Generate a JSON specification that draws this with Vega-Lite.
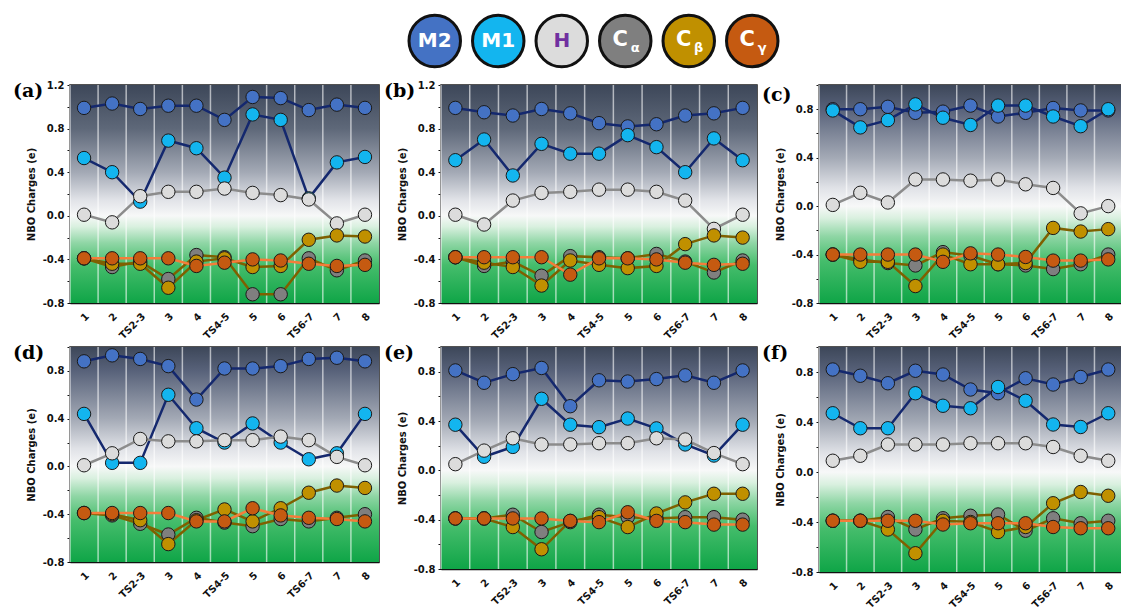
{
  "$schema": "https://vega.github.io/schema/vega-lite/v6.json",
  "background": "white",
  "padding": {"left": 12, "top": 9, "right": 0, "bottom": 0},
  "spacing": 6,
  "config": {
    "view": {"stroke": "#1a1a1a", "strokeWidth": 1.5},
    "axis": {"labelFont": "DejaVu Sans", "labelFontWeight": "bold", "labelFontSize": 10, "labelColor": "#111", "titleFont": "DejaVu Sans", "titleFontWeight": "bold", "titleFontSize": 10, "titleColor": "#111", "domainColor": "#111", "tickColor": "#111", "grid": false},
    "title": {"font": "DejaVu Serif", "fontSize": 19, "fontWeight": "bold", "color": "#000", "anchor": "start", "frame": "group", "dx": -57, "dy": 25, "offset": 0, "baseline": "alphabetic"}
  },
  "datasets": {
    "cats": [{"s": "1"}, {"s": "2"}, {"s": "TS2-3"}, {"s": "3"}, {"s": "4"}, {"s": "TS4-5"}, {"s": "5"}, {"s": "6"}, {"s": "TS6-7"}, {"s": "7"}, {"s": "8"}],
    "legend": [
      {"atom": "M2", "main": "M2", "sub": ""},
      {"atom": "M1", "main": "M1", "sub": ""},
      {"atom": "H", "main": "H", "sub": ""},
      {"atom": "Ca", "main": "C", "sub": "α"},
      {"atom": "Cb", "main": "C", "sub": "β"},
      {"atom": "Cg", "main": "C", "sub": "γ"}
    ],
    "charges": [
      {"p": "a", "s": "1", "M2": 0.99, "M1": 0.53, "H": 0.01, "Ca": -0.39, "Cb": -0.39, "Cg": -0.39},
      {"p": "a", "s": "2", "M2": 1.03, "M1": 0.40, "H": -0.06, "Ca": -0.47, "Cb": -0.44, "Cg": -0.39},
      {"p": "a", "s": "TS2-3", "M2": 0.98, "M1": 0.13, "H": 0.18, "Ca": -0.42, "Cb": -0.44, "Cg": -0.39},
      {"p": "a", "s": "3", "M2": 1.01, "M1": 0.69, "H": 0.22, "Ca": -0.58, "Cb": -0.66, "Cg": -0.39},
      {"p": "a", "s": "4", "M2": 1.01, "M1": 0.62, "H": 0.22, "Ca": -0.36, "Cb": -0.42, "Cg": -0.46},
      {"p": "a", "s": "TS4-5", "M2": 0.88, "M1": 0.35, "H": 0.25, "Ca": -0.38, "Cb": -0.39, "Cg": -0.43},
      {"p": "a", "s": "5", "M2": 1.09, "M1": 0.93, "H": 0.21, "Ca": -0.72, "Cb": -0.47, "Cg": -0.40},
      {"p": "a", "s": "6", "M2": 1.08, "M1": 0.88, "H": 0.19, "Ca": -0.72, "Cb": -0.46, "Cg": -0.41},
      {"p": "a", "s": "TS6-7", "M2": 0.97, "M1": 0.16, "H": 0.15, "Ca": -0.39, "Cb": -0.22, "Cg": -0.44},
      {"p": "a", "s": "7", "M2": 1.02, "M1": 0.49, "H": -0.07, "Ca": -0.50, "Cb": -0.18, "Cg": -0.46},
      {"p": "a", "s": "8", "M2": 0.99, "M1": 0.54, "H": 0.01, "Ca": -0.41, "Cb": -0.19, "Cg": -0.45},

      {"p": "b", "s": "1", "M2": 0.99, "M1": 0.51, "H": 0.01, "Ca": -0.38, "Cb": -0.38, "Cg": -0.38},
      {"p": "b", "s": "2", "M2": 0.95, "M1": 0.70, "H": -0.08, "Ca": -0.46, "Cb": -0.43, "Cg": -0.38},
      {"p": "b", "s": "TS2-3", "M2": 0.92, "M1": 0.37, "H": 0.14, "Ca": -0.42, "Cb": -0.47, "Cg": -0.38},
      {"p": "b", "s": "3", "M2": 0.98, "M1": 0.66, "H": 0.21, "Ca": -0.55, "Cb": -0.64, "Cg": -0.38},
      {"p": "b", "s": "4", "M2": 0.94, "M1": 0.57, "H": 0.22, "Ca": -0.37, "Cb": -0.41, "Cg": -0.54},
      {"p": "b", "s": "TS4-5", "M2": 0.85, "M1": 0.57, "H": 0.24, "Ca": -0.38, "Cb": -0.45, "Cg": -0.39},
      {"p": "b", "s": "5", "M2": 0.82, "M1": 0.74, "H": 0.24, "Ca": -0.39, "Cb": -0.48, "Cg": -0.39},
      {"p": "b", "s": "6", "M2": 0.84, "M1": 0.63, "H": 0.22, "Ca": -0.35, "Cb": -0.46, "Cg": -0.40},
      {"p": "b", "s": "TS6-7", "M2": 0.92, "M1": 0.40, "H": 0.14, "Ca": -0.42, "Cb": -0.26, "Cg": -0.43},
      {"p": "b", "s": "7", "M2": 0.94, "M1": 0.71, "H": -0.12, "Ca": -0.52, "Cb": -0.18, "Cg": -0.45},
      {"p": "b", "s": "8", "M2": 0.99, "M1": 0.51, "H": 0.01, "Ca": -0.41, "Cb": -0.20, "Cg": -0.44},

      {"p": "c", "s": "1", "M2": 0.80, "M1": 0.79, "H": 0.01, "Ca": -0.40, "Cb": -0.40, "Cg": -0.40},
      {"p": "c", "s": "2", "M2": 0.80, "M1": 0.65, "H": 0.11, "Ca": -0.44, "Cb": -0.46, "Cg": -0.40},
      {"p": "c", "s": "TS2-3", "M2": 0.82, "M1": 0.71, "H": 0.03, "Ca": -0.47, "Cb": -0.46, "Cg": -0.40},
      {"p": "c", "s": "3", "M2": 0.77, "M1": 0.84, "H": 0.22, "Ca": -0.49, "Cb": -0.66, "Cg": -0.40},
      {"p": "c", "s": "4", "M2": 0.78, "M1": 0.73, "H": 0.22, "Ca": -0.38, "Cb": -0.40, "Cg": -0.46},
      {"p": "c", "s": "TS4-5", "M2": 0.83, "M1": 0.67, "H": 0.21, "Ca": -0.41, "Cb": -0.48, "Cg": -0.39},
      {"p": "c", "s": "5", "M2": 0.74, "M1": 0.83, "H": 0.22, "Ca": -0.48, "Cb": -0.48, "Cg": -0.40},
      {"p": "c", "s": "6", "M2": 0.77, "M1": 0.83, "H": 0.18, "Ca": -0.49, "Cb": -0.47, "Cg": -0.42},
      {"p": "c", "s": "TS6-7", "M2": 0.81, "M1": 0.74, "H": 0.15, "Ca": -0.52, "Cb": -0.18, "Cg": -0.45},
      {"p": "c", "s": "7", "M2": 0.79, "M1": 0.66, "H": -0.06, "Ca": -0.48, "Cb": -0.21, "Cg": -0.45},
      {"p": "c", "s": "8", "M2": 0.79, "M1": 0.80, "H": 0.00, "Ca": -0.40, "Cb": -0.19, "Cg": -0.44},

      {"p": "d", "s": "1", "M2": 0.88, "M1": 0.44, "H": 0.01, "Ca": -0.39, "Cb": -0.39, "Cg": -0.39},
      {"p": "d", "s": "2", "M2": 0.93, "M1": 0.03, "H": 0.11, "Ca": -0.41, "Cb": -0.40, "Cg": -0.39},
      {"p": "d", "s": "TS2-3", "M2": 0.90, "M1": 0.03, "H": 0.23, "Ca": -0.48, "Cb": -0.45, "Cg": -0.39},
      {"p": "d", "s": "3", "M2": 0.84, "M1": 0.60, "H": 0.21, "Ca": -0.57, "Cb": -0.65, "Cg": -0.39},
      {"p": "d", "s": "4", "M2": 0.56, "M1": 0.32, "H": 0.21, "Ca": -0.43, "Cb": -0.45, "Cg": -0.46},
      {"p": "d", "s": "TS4-5", "M2": 0.82, "M1": 0.20, "H": 0.22, "Ca": -0.47, "Cb": -0.36, "Cg": -0.46},
      {"p": "d", "s": "5", "M2": 0.82, "M1": 0.36, "H": 0.22, "Ca": -0.50, "Cb": -0.46, "Cg": -0.35},
      {"p": "d", "s": "6", "M2": 0.84, "M1": 0.20, "H": 0.25, "Ca": -0.44, "Cb": -0.35, "Cg": -0.41},
      {"p": "d", "s": "TS6-7", "M2": 0.90, "M1": 0.06, "H": 0.22, "Ca": -0.46, "Cb": -0.22, "Cg": -0.43},
      {"p": "d", "s": "7", "M2": 0.91, "M1": 0.11, "H": 0.08, "Ca": -0.43, "Cb": -0.16, "Cg": -0.44},
      {"p": "d", "s": "8", "M2": 0.88, "M1": 0.44, "H": 0.01, "Ca": -0.40, "Cb": -0.18, "Cg": -0.46},

      {"p": "e", "s": "1", "M2": 0.81, "M1": 0.37, "H": 0.05, "Ca": -0.39, "Cb": -0.39, "Cg": -0.39},
      {"p": "e", "s": "2", "M2": 0.71, "M1": 0.11, "H": 0.16, "Ca": -0.39, "Cb": -0.39, "Cg": -0.39},
      {"p": "e", "s": "TS2-3", "M2": 0.78, "M1": 0.19, "H": 0.26, "Ca": -0.36, "Cb": -0.46, "Cg": -0.39},
      {"p": "e", "s": "3", "M2": 0.83, "M1": 0.58, "H": 0.21, "Ca": -0.50, "Cb": -0.64, "Cg": -0.39},
      {"p": "e", "s": "4", "M2": 0.52, "M1": 0.37, "H": 0.21, "Ca": -0.42, "Cb": -0.41, "Cg": -0.41},
      {"p": "e", "s": "TS4-5", "M2": 0.73, "M1": 0.35, "H": 0.22, "Ca": -0.36, "Cb": -0.38, "Cg": -0.42},
      {"p": "e", "s": "5", "M2": 0.72, "M1": 0.42, "H": 0.22, "Ca": -0.38, "Cb": -0.46, "Cg": -0.34},
      {"p": "e", "s": "6", "M2": 0.74, "M1": 0.34, "H": 0.26, "Ca": -0.39, "Cb": -0.35, "Cg": -0.41},
      {"p": "e", "s": "TS6-7", "M2": 0.77, "M1": 0.21, "H": 0.25, "Ca": -0.38, "Cb": -0.26, "Cg": -0.42},
      {"p": "e", "s": "7", "M2": 0.71, "M1": 0.12, "H": 0.14, "Ca": -0.38, "Cb": -0.19, "Cg": -0.44},
      {"p": "e", "s": "8", "M2": 0.81, "M1": 0.37, "H": 0.05, "Ca": -0.40, "Cb": -0.19, "Cg": -0.44},

      {"p": "f", "s": "1", "M2": 0.82, "M1": 0.47, "H": 0.09, "Ca": -0.39, "Cb": -0.39, "Cg": -0.39},
      {"p": "f", "s": "2", "M2": 0.77, "M1": 0.35, "H": 0.13, "Ca": -0.39, "Cb": -0.39, "Cg": -0.39},
      {"p": "f", "s": "TS2-3", "M2": 0.71, "M1": 0.35, "H": 0.22, "Ca": -0.36, "Cb": -0.46, "Cg": -0.39},
      {"p": "f", "s": "3", "M2": 0.81, "M1": 0.63, "H": 0.22, "Ca": -0.46, "Cb": -0.65, "Cg": -0.39},
      {"p": "f", "s": "4", "M2": 0.78, "M1": 0.53, "H": 0.22, "Ca": -0.37, "Cb": -0.39, "Cg": -0.42},
      {"p": "f", "s": "TS4-5", "M2": 0.66, "M1": 0.51, "H": 0.23, "Ca": -0.35, "Cb": -0.40, "Cg": -0.41},
      {"p": "f", "s": "5", "M2": 0.63, "M1": 0.68, "H": 0.23, "Ca": -0.34, "Cb": -0.48, "Cg": -0.41},
      {"p": "f", "s": "6", "M2": 0.75, "M1": 0.57, "H": 0.23, "Ca": -0.47, "Cb": -0.44, "Cg": -0.41},
      {"p": "f", "s": "TS6-7", "M2": 0.70, "M1": 0.38, "H": 0.20, "Ca": -0.37, "Cb": -0.25, "Cg": -0.44},
      {"p": "f", "s": "7", "M2": 0.76, "M1": 0.36, "H": 0.13, "Ca": -0.41, "Cb": -0.16, "Cg": -0.45},
      {"p": "f", "s": "8", "M2": 0.82, "M1": 0.47, "H": 0.09, "Ca": -0.39, "Cb": -0.19, "Cg": -0.45}
    ]
  },
  "vconcat": [
    {
      "spacing": 0,
      "hconcat": [
        {"width": 333, "height": 62, "view": {"stroke": null, "fill": "white"}, "data": {"values": []}, "mark": "point"},
        {
          "width": 381, "height": 62,
          "view": {"stroke": null, "fill": "white"},
          "data": {"name": "legend"},
          "encoding": {"x": {"field": "atom", "type": "nominal", "scale": {"type": "point", "domain": ["M2", "M1", "H", "Ca", "Cb", "Cg"], "padding": 0.5}, "axis": null}},
          "layer": [
            {"mark": {"type": "point", "filled": true, "size": 2650, "stroke": "#111", "strokeWidth": 3, "opacity": 1},
             "encoding": {"fill": {"field": "atom", "type": "nominal", "scale": {"domain": ["M2", "M1", "H", "Ca", "Cb", "Cg"], "range": ["#4472c4", "#13b5ef", "#dcdcdc", "#7f7f7f", "#c09000", "#c55a11"]}, "legend": null}}},
            {"transform": [{"filter": "datum.sub == ''"}],
             "mark": {"type": "text", "font": "DejaVu Sans", "fontWeight": "bold", "fontSize": 20, "baseline": "middle", "align": "center"},
             "encoding": {"text": {"field": "main"}, "color": {"condition": {"test": "datum.atom == 'H'", "value": "#7030a0"}, "value": "white"}}},
            {"transform": [{"filter": "datum.sub != ''"}],
             "mark": {"type": "text", "font": "DejaVu Sans", "fontWeight": "bold", "fontSize": 21, "baseline": "middle", "align": "center", "dx": -5, "dy": -1, "color": "white"},
             "encoding": {"text": {"field": "main"}}},
            {"transform": [{"filter": "datum.sub != ''"}],
             "mark": {"type": "text", "font": "DejaVu Sans", "fontWeight": "bold", "fontSize": 13, "baseline": "middle", "align": "center", "dx": 10, "dy": 7, "color": "white"},
             "encoding": {"text": {"field": "sub"}}}
          ]
        }
      ]
    },
    {
      "columns": 3,
      "bounds": "flush",
      "spacing": {"row": 44, "column": 62},
      "concat": [
        {
          "width": 309, "height": 218, "title": {"text": "(a)"},
          "layer": [
            {"data": {"values": [{}]}, "mark": {"type": "rect", "color": {"gradient": "linear", "x1": 0, "y1": 0, "x2": 0, "y2": 1, "stops": [{"offset": 0, "color": "#3d4759"}, {"offset": 0.2, "color": "#5e6879"}, {"offset": 0.4, "color": "#a3a9b5"}, {"offset": 0.525, "color": "#e0e2e7"}, {"offset": 0.6, "color": "#f7f8f8"}, {"offset": 0.65, "color": "#d9f0df"}, {"offset": 0.725, "color": "#8fd6a5"}, {"offset": 0.825, "color": "#46bd6c"}, {"offset": 1, "color": "#0fa547"}]}},
             "encoding": {"y": {"datum": 1.2, "type": "quantitative", "scale": {"domain": [-0.8, 1.2], "nice": false, "zero": false}, "axis": {"title": "NBO Charges (e)", "values": [-0.8, -0.6, -0.4, -0.2, 0, 0.2, 0.4, 0.6, 0.8, 1.0, 1.2], "labelExpr": "abs(round(datum.value*10)) % 4 == 0 ? replace(format(datum.value, '.1f'), '\u2212', '-') : ''", "tickSize": 3, "labelPadding": 3, "titlePadding": 6, "domainWidth": 1.5}}, "y2": {"datum": -0.8}}},
            {"data": {"name": "cats"}, "mark": {"type": "rule", "color": "white", "opacity": 0.6, "strokeWidth": 1.5},
             "encoding": {"x": {"field": "s", "type": "nominal", "bandPosition": 0, "scale": {"domain": ["1", "2", "TS2-3", "3", "4", "TS4-5", "5", "6", "TS6-7", "7", "8"], "paddingInner": 0, "paddingOuter": 0}, "axis": {"title": null, "labelAngle": -45, "ticks": false, "labelPadding": 8, "domainWidth": 1.5}}}},
            {"data": {"name": "charges"},
             "transform": [{"filter": "datum.p == 'a'"}, {"fold": ["M2", "M1", "H", "Ca", "Cb", "Cg"], "as": ["atom", "q"]}],
             "encoding": {
               "x": {"field": "s", "type": "nominal", "scale": {"domain": ["1", "2", "TS2-3", "3", "4", "TS4-5", "5", "6", "TS6-7", "7", "8"], "paddingInner": 0, "paddingOuter": 0}, "axis": {"title": null, "labelAngle": -45, "ticks": false, "labelPadding": 8, "domainWidth": 1.5}},
               "y": {"field": "q", "type": "quantitative", "scale": {"domain": [-0.8, 1.2], "nice": false, "zero": false}, "axis": {"title": "NBO Charges (e)", "values": [-0.8, -0.6, -0.4, -0.2, 0, 0.2, 0.4, 0.6, 0.8, 1.0, 1.2], "labelExpr": "abs(round(datum.value*10)) % 4 == 0 ? replace(format(datum.value, '.1f'), '\u2212', '-') : ''", "tickSize": 3, "labelPadding": 3, "titlePadding": 6, "domainWidth": 1.5}}
             },
             "layer": [
               {"mark": {"type": "line", "strokeWidth": 2.5}, "encoding": {"stroke": {"field": "atom", "type": "nominal", "scale": {"domain": ["M2", "M1", "H", "Ca", "Cb", "Cg"], "range": ["#14286e", "#14286e", "#8c8c8c", "#7f6000", "#7f6000", "#f47d3a"]}, "legend": null}, "order": {"value": null}}},
               {"mark": {"type": "point", "filled": true, "size": 180, "stroke": "#1a1a1a", "strokeWidth": 1, "opacity": 1}, "encoding": {"fill": {"field": "atom", "type": "nominal", "scale": {"domain": ["M2", "M1", "H", "Ca", "Cb", "Cg"], "range": ["#4472c4", "#13b5ef", "#e0e0e0", "#7f7f7f", "#c09000", "#c55a11"]}, "legend": null}}}
             ]}
          ]
        },
        {
          "width": 316, "height": 218, "title": {"text": "(b)"},
          "layer": [
            {"data": {"values": [{}]}, "mark": {"type": "rect", "color": {"gradient": "linear", "x1": 0, "y1": 0, "x2": 0, "y2": 1, "stops": [{"offset": 0, "color": "#3d4759"}, {"offset": 0.2, "color": "#5e6879"}, {"offset": 0.4, "color": "#a3a9b5"}, {"offset": 0.525, "color": "#e0e2e7"}, {"offset": 0.6, "color": "#f7f8f8"}, {"offset": 0.65, "color": "#d9f0df"}, {"offset": 0.725, "color": "#8fd6a5"}, {"offset": 0.825, "color": "#46bd6c"}, {"offset": 1, "color": "#0fa547"}]}},
             "encoding": {"y": {"datum": 1.2, "type": "quantitative", "scale": {"domain": [-0.8, 1.2], "nice": false, "zero": false}, "axis": {"title": "NBO Charges (e)", "values": [-0.8, -0.6, -0.4, -0.2, 0, 0.2, 0.4, 0.6, 0.8, 1.0, 1.2], "labelExpr": "abs(round(datum.value*10)) % 4 == 0 ? replace(format(datum.value, '.1f'), '\u2212', '-') : ''", "tickSize": 3, "labelPadding": 3, "titlePadding": 6, "domainWidth": 1.5}}, "y2": {"datum": -0.8}}},
            {"data": {"name": "cats"}, "mark": {"type": "rule", "color": "white", "opacity": 0.6, "strokeWidth": 1.5},
             "encoding": {"x": {"field": "s", "type": "nominal", "bandPosition": 0, "scale": {"domain": ["1", "2", "TS2-3", "3", "4", "TS4-5", "5", "6", "TS6-7", "7", "8"], "paddingInner": 0, "paddingOuter": 0}, "axis": {"title": null, "labelAngle": -45, "ticks": false, "labelPadding": 8, "domainWidth": 1.5}}}},
            {"data": {"name": "charges"},
             "transform": [{"filter": "datum.p == 'b'"}, {"fold": ["M2", "M1", "H", "Ca", "Cb", "Cg"], "as": ["atom", "q"]}],
             "encoding": {
               "x": {"field": "s", "type": "nominal", "scale": {"domain": ["1", "2", "TS2-3", "3", "4", "TS4-5", "5", "6", "TS6-7", "7", "8"], "paddingInner": 0, "paddingOuter": 0}, "axis": {"title": null, "labelAngle": -45, "ticks": false, "labelPadding": 8, "domainWidth": 1.5}},
               "y": {"field": "q", "type": "quantitative", "scale": {"domain": [-0.8, 1.2], "nice": false, "zero": false}, "axis": {"title": "NBO Charges (e)", "values": [-0.8, -0.6, -0.4, -0.2, 0, 0.2, 0.4, 0.6, 0.8, 1.0, 1.2], "labelExpr": "abs(round(datum.value*10)) % 4 == 0 ? replace(format(datum.value, '.1f'), '\u2212', '-') : ''", "tickSize": 3, "labelPadding": 3, "titlePadding": 6, "domainWidth": 1.5}}
             },
             "layer": [
               {"mark": {"type": "line", "strokeWidth": 2.5}, "encoding": {"stroke": {"field": "atom", "type": "nominal", "scale": {"domain": ["M2", "M1", "H", "Ca", "Cb", "Cg"], "range": ["#14286e", "#14286e", "#8c8c8c", "#7f6000", "#7f6000", "#f47d3a"]}, "legend": null}, "order": {"value": null}}},
               {"mark": {"type": "point", "filled": true, "size": 180, "stroke": "#1a1a1a", "strokeWidth": 1, "opacity": 1}, "encoding": {"fill": {"field": "atom", "type": "nominal", "scale": {"domain": ["M2", "M1", "H", "Ca", "Cb", "Cg"], "range": ["#4472c4", "#13b5ef", "#e0e0e0", "#7f7f7f", "#c09000", "#c55a11"]}, "legend": null}}}
             ]}
          ]
        },
        {
          "width": 303, "height": 218, "title": {"text": "(c)"},
          "layer": [
            {"data": {"values": [{}]}, "mark": {"type": "rect", "color": {"gradient": "linear", "x1": 0, "y1": 0, "x2": 0, "y2": 1, "stops": [{"offset": 0, "color": "#3d4759"}, {"offset": 0.111, "color": "#58627a"}, {"offset": 0.333, "color": "#a3a9b5"}, {"offset": 0.472, "color": "#e0e2e7"}, {"offset": 0.556, "color": "#f7f8f8"}, {"offset": 0.611, "color": "#d9f0df"}, {"offset": 0.694, "color": "#8fd6a5"}, {"offset": 0.806, "color": "#46bd6c"}, {"offset": 1, "color": "#0fa547"}]}},
             "encoding": {"y": {"datum": 1.0, "type": "quantitative", "scale": {"domain": [-0.8, 1.0], "nice": false, "zero": false}, "axis": {"title": "NBO Charges (e)", "values": [-0.8, -0.6, -0.4, -0.2, 0, 0.2, 0.4, 0.6, 0.8, 1.0], "labelExpr": "abs(round(datum.value*10)) % 4 == 0 ? replace(format(datum.value, '.1f'), '\u2212', '-') : ''", "tickSize": 3, "labelPadding": 3, "titlePadding": 6, "domainWidth": 1.5}}, "y2": {"datum": -0.8}}},
            {"data": {"name": "cats"}, "mark": {"type": "rule", "color": "white", "opacity": 0.6, "strokeWidth": 1.5},
             "encoding": {"x": {"field": "s", "type": "nominal", "bandPosition": 0, "scale": {"domain": ["1", "2", "TS2-3", "3", "4", "TS4-5", "5", "6", "TS6-7", "7", "8"], "paddingInner": 0, "paddingOuter": 0}, "axis": {"title": null, "labelAngle": -45, "ticks": false, "labelPadding": 8, "domainWidth": 1.5}}}},
            {"data": {"name": "charges"},
             "transform": [{"filter": "datum.p == 'c'"}, {"fold": ["M2", "M1", "H", "Ca", "Cb", "Cg"], "as": ["atom", "q"]}],
             "encoding": {
               "x": {"field": "s", "type": "nominal", "scale": {"domain": ["1", "2", "TS2-3", "3", "4", "TS4-5", "5", "6", "TS6-7", "7", "8"], "paddingInner": 0, "paddingOuter": 0}, "axis": {"title": null, "labelAngle": -45, "ticks": false, "labelPadding": 8, "domainWidth": 1.5}},
               "y": {"field": "q", "type": "quantitative", "scale": {"domain": [-0.8, 1.0], "nice": false, "zero": false}, "axis": {"title": "NBO Charges (e)", "values": [-0.8, -0.6, -0.4, -0.2, 0, 0.2, 0.4, 0.6, 0.8, 1.0], "labelExpr": "abs(round(datum.value*10)) % 4 == 0 ? replace(format(datum.value, '.1f'), '\u2212', '-') : ''", "tickSize": 3, "labelPadding": 3, "titlePadding": 6, "domainWidth": 1.5}}
             },
             "layer": [
               {"mark": {"type": "line", "strokeWidth": 2.5}, "encoding": {"stroke": {"field": "atom", "type": "nominal", "scale": {"domain": ["M2", "M1", "H", "Ca", "Cb", "Cg"], "range": ["#14286e", "#14286e", "#8c8c8c", "#7f6000", "#7f6000", "#f47d3a"]}, "legend": null}, "order": {"value": null}}},
               {"mark": {"type": "point", "filled": true, "size": 180, "stroke": "#1a1a1a", "strokeWidth": 1, "opacity": 1}, "encoding": {"fill": {"field": "atom", "type": "nominal", "scale": {"domain": ["M2", "M1", "H", "Ca", "Cb", "Cg"], "range": ["#4472c4", "#13b5ef", "#e0e0e0", "#7f7f7f", "#c09000", "#c55a11"]}, "legend": null}}}
             ]}
          ]
        },
        {
          "width": 309, "height": 215, "title": {"text": "(d)", "dy": 21},
          "layer": [
            {"data": {"values": [{}]}, "mark": {"type": "rect", "color": {"gradient": "linear", "x1": 0, "y1": 0, "x2": 0, "y2": 1, "stops": [{"offset": 0, "color": "#3d4759"}, {"offset": 0.111, "color": "#58627a"}, {"offset": 0.333, "color": "#a3a9b5"}, {"offset": 0.472, "color": "#e0e2e7"}, {"offset": 0.556, "color": "#f7f8f8"}, {"offset": 0.611, "color": "#d9f0df"}, {"offset": 0.694, "color": "#8fd6a5"}, {"offset": 0.806, "color": "#46bd6c"}, {"offset": 1, "color": "#0fa547"}]}},
             "encoding": {"y": {"datum": 1.0, "type": "quantitative", "scale": {"domain": [-0.8, 1.0], "nice": false, "zero": false}, "axis": {"title": "NBO Charges (e)", "values": [-0.8, -0.6, -0.4, -0.2, 0, 0.2, 0.4, 0.6, 0.8, 1.0], "labelExpr": "abs(round(datum.value*10)) % 4 == 0 ? replace(format(datum.value, '.1f'), '\u2212', '-') : ''", "tickSize": 3, "labelPadding": 3, "titlePadding": 6, "domainWidth": 1.5}}, "y2": {"datum": -0.8}}},
            {"data": {"name": "cats"}, "mark": {"type": "rule", "color": "white", "opacity": 0.6, "strokeWidth": 1.5},
             "encoding": {"x": {"field": "s", "type": "nominal", "bandPosition": 0, "scale": {"domain": ["1", "2", "TS2-3", "3", "4", "TS4-5", "5", "6", "TS6-7", "7", "8"], "paddingInner": 0, "paddingOuter": 0}, "axis": {"title": null, "labelAngle": -45, "ticks": false, "labelPadding": 8, "domainWidth": 1.5}}}},
            {"data": {"name": "charges"},
             "transform": [{"filter": "datum.p == 'd'"}, {"fold": ["M2", "M1", "H", "Ca", "Cb", "Cg"], "as": ["atom", "q"]}],
             "encoding": {
               "x": {"field": "s", "type": "nominal", "scale": {"domain": ["1", "2", "TS2-3", "3", "4", "TS4-5", "5", "6", "TS6-7", "7", "8"], "paddingInner": 0, "paddingOuter": 0}, "axis": {"title": null, "labelAngle": -45, "ticks": false, "labelPadding": 8, "domainWidth": 1.5}},
               "y": {"field": "q", "type": "quantitative", "scale": {"domain": [-0.8, 1.0], "nice": false, "zero": false}, "axis": {"title": "NBO Charges (e)", "values": [-0.8, -0.6, -0.4, -0.2, 0, 0.2, 0.4, 0.6, 0.8, 1.0], "labelExpr": "abs(round(datum.value*10)) % 4 == 0 ? replace(format(datum.value, '.1f'), '\u2212', '-') : ''", "tickSize": 3, "labelPadding": 3, "titlePadding": 6, "domainWidth": 1.5}}
             },
             "layer": [
               {"mark": {"type": "line", "strokeWidth": 2.5}, "encoding": {"stroke": {"field": "atom", "type": "nominal", "scale": {"domain": ["M2", "M1", "H", "Ca", "Cb", "Cg"], "range": ["#14286e", "#14286e", "#8c8c8c", "#7f6000", "#7f6000", "#f47d3a"]}, "legend": null}, "order": {"value": null}}},
               {"mark": {"type": "point", "filled": true, "size": 180, "stroke": "#1a1a1a", "strokeWidth": 1, "opacity": 1}, "encoding": {"fill": {"field": "atom", "type": "nominal", "scale": {"domain": ["M2", "M1", "H", "Ca", "Cb", "Cg"], "range": ["#4472c4", "#13b5ef", "#e0e0e0", "#7f7f7f", "#c09000", "#c55a11"]}, "legend": null}}}
             ]}
          ]
        },
        {
          "width": 316, "height": 222, "title": {"text": "(e)", "dy": 21},
          "layer": [
            {"data": {"values": [{}]}, "mark": {"type": "rect", "color": {"gradient": "linear", "x1": 0, "y1": 0, "x2": 0, "y2": 1, "stops": [{"offset": 0, "color": "#3d4759"}, {"offset": 0.111, "color": "#58627a"}, {"offset": 0.333, "color": "#a3a9b5"}, {"offset": 0.472, "color": "#e0e2e7"}, {"offset": 0.556, "color": "#f7f8f8"}, {"offset": 0.611, "color": "#d9f0df"}, {"offset": 0.694, "color": "#8fd6a5"}, {"offset": 0.806, "color": "#46bd6c"}, {"offset": 1, "color": "#0fa547"}]}},
             "encoding": {"y": {"datum": 1.0, "type": "quantitative", "scale": {"domain": [-0.8, 1.0], "nice": false, "zero": false}, "axis": {"title": "NBO Charges (e)", "values": [-0.8, -0.6, -0.4, -0.2, 0, 0.2, 0.4, 0.6, 0.8, 1.0], "labelExpr": "abs(round(datum.value*10)) % 4 == 0 ? replace(format(datum.value, '.1f'), '\u2212', '-') : ''", "tickSize": 3, "labelPadding": 3, "titlePadding": 6, "domainWidth": 1.5}}, "y2": {"datum": -0.8}}},
            {"data": {"name": "cats"}, "mark": {"type": "rule", "color": "white", "opacity": 0.6, "strokeWidth": 1.5},
             "encoding": {"x": {"field": "s", "type": "nominal", "bandPosition": 0, "scale": {"domain": ["1", "2", "TS2-3", "3", "4", "TS4-5", "5", "6", "TS6-7", "7", "8"], "paddingInner": 0, "paddingOuter": 0}, "axis": {"title": null, "labelAngle": -45, "ticks": false, "labelPadding": 8, "domainWidth": 1.5}}}},
            {"data": {"name": "charges"},
             "transform": [{"filter": "datum.p == 'e'"}, {"fold": ["M2", "M1", "H", "Ca", "Cb", "Cg"], "as": ["atom", "q"]}],
             "encoding": {
               "x": {"field": "s", "type": "nominal", "scale": {"domain": ["1", "2", "TS2-3", "3", "4", "TS4-5", "5", "6", "TS6-7", "7", "8"], "paddingInner": 0, "paddingOuter": 0}, "axis": {"title": null, "labelAngle": -45, "ticks": false, "labelPadding": 8, "domainWidth": 1.5}},
               "y": {"field": "q", "type": "quantitative", "scale": {"domain": [-0.8, 1.0], "nice": false, "zero": false}, "axis": {"title": "NBO Charges (e)", "values": [-0.8, -0.6, -0.4, -0.2, 0, 0.2, 0.4, 0.6, 0.8, 1.0], "labelExpr": "abs(round(datum.value*10)) % 4 == 0 ? replace(format(datum.value, '.1f'), '\u2212', '-') : ''", "tickSize": 3, "labelPadding": 3, "titlePadding": 6, "domainWidth": 1.5}}
             },
             "layer": [
               {"mark": {"type": "line", "strokeWidth": 2.5}, "encoding": {"stroke": {"field": "atom", "type": "nominal", "scale": {"domain": ["M2", "M1", "H", "Ca", "Cb", "Cg"], "range": ["#14286e", "#14286e", "#8c8c8c", "#7f6000", "#7f6000", "#f47d3a"]}, "legend": null}, "order": {"value": null}}},
               {"mark": {"type": "point", "filled": true, "size": 180, "stroke": "#1a1a1a", "strokeWidth": 1, "opacity": 1}, "encoding": {"fill": {"field": "atom", "type": "nominal", "scale": {"domain": ["M2", "M1", "H", "Ca", "Cb", "Cg"], "range": ["#4472c4", "#13b5ef", "#e0e0e0", "#7f7f7f", "#c09000", "#c55a11"]}, "legend": null}}}
             ]}
          ]
        },
        {
          "width": 303, "height": 225, "title": {"text": "(f)", "dy": 21},
          "layer": [
            {"data": {"values": [{}]}, "mark": {"type": "rect", "color": {"gradient": "linear", "x1": 0, "y1": 0, "x2": 0, "y2": 1, "stops": [{"offset": 0, "color": "#3d4759"}, {"offset": 0.111, "color": "#58627a"}, {"offset": 0.333, "color": "#a3a9b5"}, {"offset": 0.472, "color": "#e0e2e7"}, {"offset": 0.556, "color": "#f7f8f8"}, {"offset": 0.611, "color": "#d9f0df"}, {"offset": 0.694, "color": "#8fd6a5"}, {"offset": 0.806, "color": "#46bd6c"}, {"offset": 1, "color": "#0fa547"}]}},
             "encoding": {"y": {"datum": 1.0, "type": "quantitative", "scale": {"domain": [-0.8, 1.0], "nice": false, "zero": false}, "axis": {"title": "NBO Charges (e)", "values": [-0.8, -0.6, -0.4, -0.2, 0, 0.2, 0.4, 0.6, 0.8, 1.0], "labelExpr": "abs(round(datum.value*10)) % 4 == 0 ? replace(format(datum.value, '.1f'), '\u2212', '-') : ''", "tickSize": 3, "labelPadding": 3, "titlePadding": 6, "domainWidth": 1.5}}, "y2": {"datum": -0.8}}},
            {"data": {"name": "cats"}, "mark": {"type": "rule", "color": "white", "opacity": 0.6, "strokeWidth": 1.5},
             "encoding": {"x": {"field": "s", "type": "nominal", "bandPosition": 0, "scale": {"domain": ["1", "2", "TS2-3", "3", "4", "TS4-5", "5", "6", "TS6-7", "7", "8"], "paddingInner": 0, "paddingOuter": 0}, "axis": {"title": null, "labelAngle": -45, "ticks": false, "labelPadding": 8, "domainWidth": 1.5}}}},
            {"data": {"name": "charges"},
             "transform": [{"filter": "datum.p == 'f'"}, {"fold": ["M2", "M1", "H", "Ca", "Cb", "Cg"], "as": ["atom", "q"]}],
             "encoding": {
               "x": {"field": "s", "type": "nominal", "scale": {"domain": ["1", "2", "TS2-3", "3", "4", "TS4-5", "5", "6", "TS6-7", "7", "8"], "paddingInner": 0, "paddingOuter": 0}, "axis": {"title": null, "labelAngle": -45, "ticks": false, "labelPadding": 8, "domainWidth": 1.5}},
               "y": {"field": "q", "type": "quantitative", "scale": {"domain": [-0.8, 1.0], "nice": false, "zero": false}, "axis": {"title": "NBO Charges (e)", "values": [-0.8, -0.6, -0.4, -0.2, 0, 0.2, 0.4, 0.6, 0.8, 1.0], "labelExpr": "abs(round(datum.value*10)) % 4 == 0 ? replace(format(datum.value, '.1f'), '\u2212', '-') : ''", "tickSize": 3, "labelPadding": 3, "titlePadding": 6, "domainWidth": 1.5}}
             },
             "layer": [
               {"mark": {"type": "line", "strokeWidth": 2.5}, "encoding": {"stroke": {"field": "atom", "type": "nominal", "scale": {"domain": ["M2", "M1", "H", "Ca", "Cb", "Cg"], "range": ["#14286e", "#14286e", "#8c8c8c", "#7f6000", "#7f6000", "#f47d3a"]}, "legend": null}, "order": {"value": null}}},
               {"mark": {"type": "point", "filled": true, "size": 180, "stroke": "#1a1a1a", "strokeWidth": 1, "opacity": 1}, "encoding": {"fill": {"field": "atom", "type": "nominal", "scale": {"domain": ["M2", "M1", "H", "Ca", "Cb", "Cg"], "range": ["#4472c4", "#13b5ef", "#e0e0e0", "#7f7f7f", "#c09000", "#c55a11"]}, "legend": null}}}
             ]}
          ]
        }
      ]
    }
  ]
}
